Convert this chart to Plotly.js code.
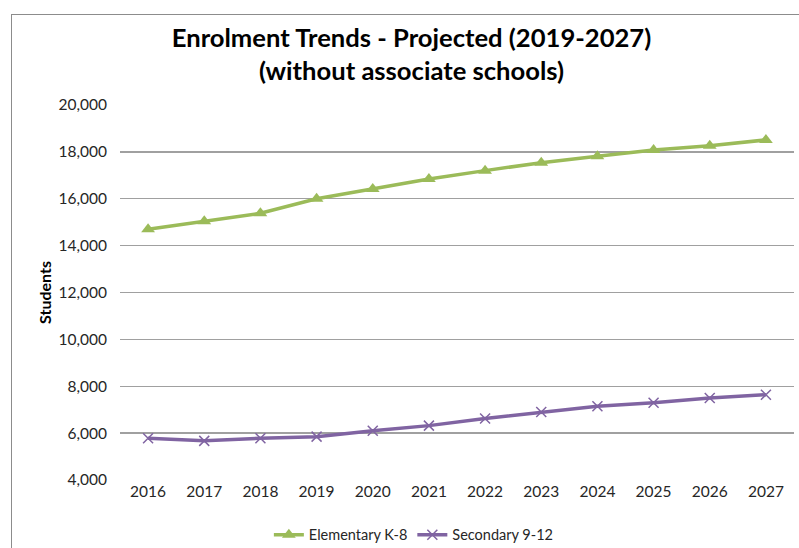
<!DOCTYPE html>
<html>
<head>
<meta charset="utf-8">
<script src="https://cdn.plot.ly/plotly-3.0.1.min.js"></script>
<style>
  html, body { margin: 0; padding: 0; background: #fff; }
  #wrap { position: relative; width: 799px; height: 548px; }
  #chart { width: 799px; height: 548px; }
  #frame { position: absolute; left: 11px; top: 14px; width: 800px; height: 560px;
           border-left: 1px solid #8c8c8c; border-top: 1px solid #8c8c8c; pointer-events: none; }
</style>
</head>
<body>
<div id="wrap">
  <div id="chart"></div>
  <div id="frame"></div>
</div>
<script>
const years = ['2016','2017','2018','2019','2020','2021','2022','2023','2024','2025','2026','2027'];
const elementary = [14700, 15040, 15380, 16000, 16420, 16840, 17200, 17540, 17810, 18080, 18260, 18510];
const secondary = [5780, 5670, 5780, 5850, 6100, 6320, 6620, 6900, 7150, 7300, 7500, 7640];
const yTicks = [4000, 6000, 8000, 10000, 12000, 14000, 16000, 18000, 20000];

const FONT = 'Lato, "Open Sans", sans-serif';

const traces = [
  {
    x: years, y: elementary, name: 'Elementary K-8', type: 'scatter', mode: 'lines+markers',
    line: { color: '#9BBB59', width: 3.5 },
    marker: { symbol: 'triangle-up', size: 12, color: '#9BBB59' }
  },
  {
    x: years, y: secondary, name: 'Secondary 9-12', type: 'scatter', mode: 'lines+markers',
    line: { color: '#8064A2', width: 3.5 },
    marker: { symbol: 'x-thin', size: 10, color: '#8064A2', line: { color: '#8064A2', width: 1.5 } }
  }
];

const layout = {
  width: 799, height: 548,
  margin: { l: 120, r: 5, t: 105, b: 68 },
  paper_bgcolor: '#ffffff', plot_bgcolor: '#ffffff',
  font: { family: FONT, color: '#000000', size: 15 },
  title: {
    text: '<b>Enrolment Trends - Projected (2019-2027)<br>(without associate schools)</b>',
    font: { family: FONT, size: 25.6, color: '#000000' },
    x: 0.515, xanchor: 'center', yref: 'container', y: 0.915, yanchor: 'middle'
  },
  xaxis: {
    type: 'category', showgrid: false, zeroline: false, showline: false,
    ticks: '', tickfont: { family: FONT, size: 15.5, color: '#262626' },
    range: [-0.5, 11.5], fixedrange: true
  },
  yaxis: {
    range: [4000, 20000], tickvals: yTicks, tickformat: ',d',
    showgrid: true, gridcolor: '#A0A0A0', gridwidth: 1.4, zeroline: false, showline: false,
    ticks: '', ticklen: 0, ticklabelstandoff: 12,
    tickfont: { family: FONT, size: 15.5, color: '#262626' },
    title: { text: '<b>Students</b>', font: { family: FONT, size: 16, color: '#000' }, standoff: 2 },
    fixedrange: true
  },
  showlegend: true,
  legend: {
    orientation: 'h', x: 0.436, xanchor: 'center', yref: 'container', y: 0.024, yanchor: 'middle',
    font: { family: FONT, size: 14.5, color: '#262626' }, itemwidth: 30
  }
};

Plotly.newPlot('chart', traces, layout, { displayModeBar: false, staticPlot: true });
</script>
</body>
</html>
